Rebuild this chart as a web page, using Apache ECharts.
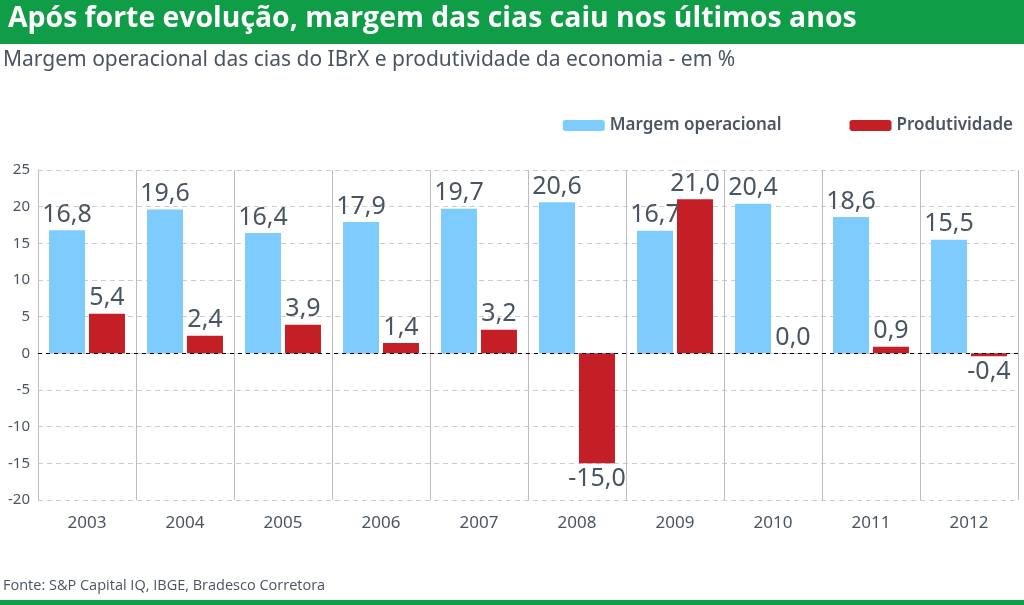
<!DOCTYPE html>
<html><head><meta charset="utf-8">
<script src="https://cdn.jsdelivr.net/npm/echarts@6/dist/echarts.min.js"></script>
<style>html,body{margin:0;padding:0;background:#fff;}#c{width:1024px;height:605px;}</style>
</head><body><div id="c"></div>
<script>
const years = ['2003','2004','2005','2006','2007','2008','2009','2010','2011','2012'];
const margem = [16.8,19.6,16.4,17.9,19.7,20.6,16.7,20.4,18.6,15.5];
const produtividade = [5.4,2.4,3.9,1.4,3.2,-15.0,21.0,0.0,0.9,-0.4];
const yTicks = [-20,-15,-10,-5,0,5,10,15,20,25];

const chart = echarts.init(document.getElementById('c'));
const fmt = p => p.value.toFixed(1).replace('.', ',');
const labelStyle = {show:true, formatter: fmt, fontFamily:'Noto Sans', fontSize:25, color:'#4a5563', distance:3};
const mk = (arr) => arr.map(v => ({value:v, label:{position: v<0 ? 'bottom':'top'}}));

chart.setOption({
  animation:false,
  graphic:[
    {type:'rect', shape:{x:0,y:0,width:1024,height:44}, style:{fill:'#0f9d48'}},
    {type:'text', left:8, top:5, style:{text:'Após forte evolução, margem das cias caiu nos últimos anos', fill:'#fff', font:'bold 28.4px "Open Sans"'}},
    {type:'text', left:3, top:50, style:{text:'Margem operacional das cias do IBrX e produtividade da economia - em %', fill:'#4a5563', font:'21px "Noto Sans"'}},
    {type:'text', left:3, top:578, style:{text:'Fonte: S&P Capital IQ, IBGE, Bradesco Corretora', fill:'#4a5563', font:'14.5px "Open Sans"'}},
    {type:'rect', shape:{x:0,y:600,width:1024,height:5}, style:{fill:'#0f9d48'}}
  ],
  legend:{
    right:6, top:112, itemWidth:42, itemHeight:11, itemGap:68,
    icon:'roundRect',
    textStyle:{fontFamily:'Noto Sans', fontSize:17, fontWeight:600, color:'#4a5563'},
    data:['Margem operacional','Produtividade']
  },
  grid:{left:38, right:6, top:170, bottom:105},
  xAxis:{
    type:'category', data:years,
    axisLine:{show:false}, axisTick:{show:false},
    axisLabel:{fontFamily:'Noto Sans', fontSize:17, color:'#4a5563', margin:15},
    splitLine:{show:true, lineStyle:{color:'#bdbdbd', width:1}}
  },
  yAxis:{
    type:'value', min:-20, max:25, interval:5,
    axisLine:{show:true, lineStyle:{color:'#bdbdbd'}},
    axisTick:{show:false},
    axisLabel:{fontFamily:'Noto Sans', fontSize:15, color:'#4a5563', margin:8},
    splitLine:{show:true, lineStyle:{color:'#cccccc', type:[5,4]}}
  },
  series:[
    {name:'Margem operacional', type:'bar', data:mk(margem), barWidth:36, barGap:'11%',
     itemStyle:{color:'#7ecbfd'}, label:labelStyle,
     markLine:{silent:true, symbol:'none', label:{show:false}, lineStyle:{color:'#000', type:[4,4], width:1}, data:[{yAxis:0}]}},
    {name:'Produtividade', type:'bar', data:mk(produtividade), barWidth:36,
     itemStyle:{color:'#c41f26'}, label:labelStyle}
  ]
});
</script></body></html>
